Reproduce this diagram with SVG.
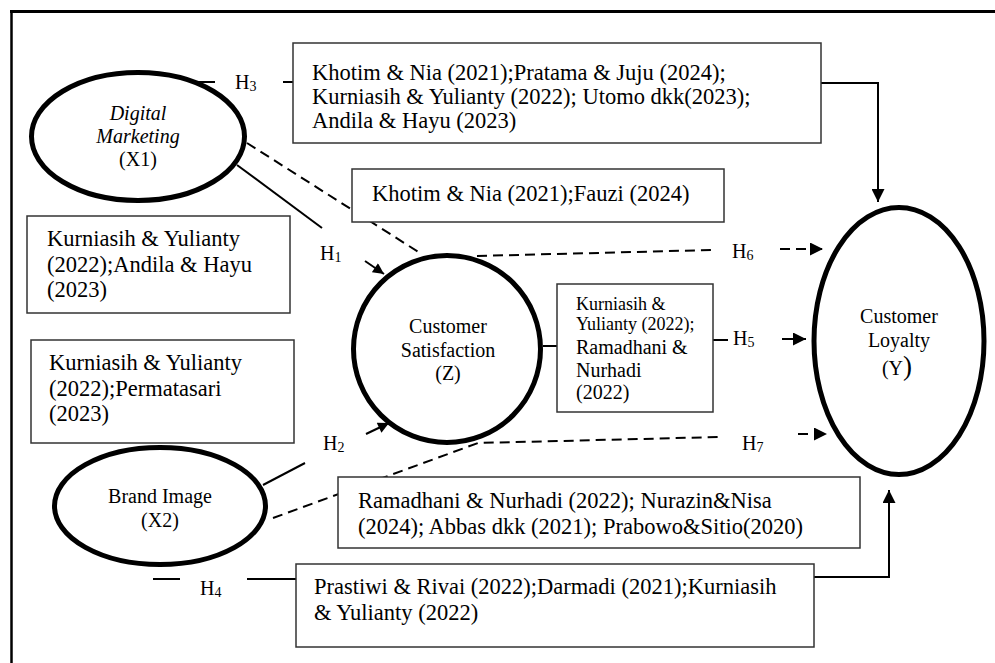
<svg xmlns="http://www.w3.org/2000/svg" width="995" height="663" viewBox="0 0 995 663">
<defs>
<marker id="ah" viewBox="0 0 10 10" refX="10" refY="5" markerWidth="12" markerHeight="11" markerUnits="userSpaceOnUse" orient="auto">
<path d="M0,0 L10,5 L0,10 z" fill="#000"/>
</marker>
<marker id="ahb" viewBox="0 0 10 10" refX="10" refY="5" markerWidth="14" markerHeight="13" markerUnits="userSpaceOnUse" orient="auto">
<path d="M0,0 L10,5 L0,10 z" fill="#000"/>
</marker>
</defs>
<style>
text{font-family:"Liberation Serif","Times New Roman",serif;fill:#000}
.bx{fill:#fff;stroke:#333;stroke-width:1.5}
.el{fill:#fff;stroke:#000;stroke-width:5}
.t{font-size:22.5px}
.n{font-size:20px}
.h{font-size:20px}
.sub{font-size:14px}
.ln{stroke:#000;stroke-width:2;fill:none}
.ds{stroke:#000;stroke-width:2;fill:none;stroke-dasharray:10 6}
</style>
<rect width="995" height="663" fill="#fff"/>
<g id="frame">
<line x1="10" y1="11.5" x2="995" y2="11.5" stroke="#000" stroke-width="3"/>
<line x1="11.5" y1="10" x2="11.5" y2="663" stroke="#000" stroke-width="2.5"/>
</g>
<g id="connectors">
<line class="ln" x1="197" y1="82" x2="215" y2="82" stroke-width="2.5"/>
<line class="ln" x1="283" y1="82" x2="293" y2="82" stroke-width="2.5"/>
<polyline class="ln" points="821,83 878,83 878,202" stroke-width="2.5" marker-end="url(#ahb)"/>
<line class="ln" x1="237" y1="165" x2="322" y2="228" stroke-width="1.8"/>
<line class="ln" x1="365" y1="261" x2="384" y2="274" marker-end="url(#ah)" stroke-width="2.5"/>
<line class="ds" x1="247" y1="143" x2="420" y2="253"/>
<line class="ds" x1="477" y1="256" x2="712" y2="250"/>
<line class="ds" x1="780" y1="249" x2="823" y2="249" stroke-dasharray="3 8 12 4" marker-end="url(#ahb)"/>
<line class="ln" x1="543" y1="346" x2="557" y2="346"/>
<line class="ln" x1="713" y1="340" x2="728" y2="340" stroke-width="2.5"/>
<line class="ln" x1="782" y1="339" x2="806" y2="339" stroke-width="2.5" marker-end="url(#ahb)"/>
<line class="ln" x1="263" y1="485" x2="305" y2="463" stroke-width="1.8"/>
<line class="ln" x1="366" y1="434" x2="389" y2="423" stroke-width="2.5" marker-end="url(#ah)"/>
<polyline class="ds" points="273,518 478,443 720,437"/>
<line class="ds" x1="798" y1="434" x2="827" y2="434" stroke-dasharray="12 6" marker-end="url(#ahb)"/>
<line class="ln" x1="153" y1="579" x2="180" y2="579" stroke-width="3"/>
<line class="ln" x1="247" y1="579" x2="296" y2="579"/>
<polyline class="ln" points="814,577 889,577 889,490" stroke-width="2.5" marker-end="url(#ahb)"/>
</g>
<g id="labels">
<text class="h" x="235" y="89">H<tspan class="sub" dy="2">3</tspan></text>
<text class="h" x="320" y="260">H<tspan class="sub" dy="2">1</tspan></text>
<text class="h" x="732" y="258">H<tspan class="sub" dy="2">6</tspan></text>
<text class="h" x="733" y="345">H<tspan class="sub" dy="2">5</tspan></text>
<text class="h" x="323" y="450">H<tspan class="sub" dy="2">2</tspan></text>
<text class="h" x="742" y="450">H<tspan class="sub" dy="2">7</tspan></text>
<text class="h" x="200" y="595">H<tspan class="sub" dy="2">4</tspan></text>
</g>
<g id="node-x1">
<ellipse class="el" cx="138" cy="136.5" rx="106.5" ry="64"/>
<text class="n" text-anchor="middle" font-style="italic"><tspan x="138" y="120">Digital</tspan><tspan x="138" y="143">Marketing</tspan></text>
<text class="n" text-anchor="middle" x="138" y="166">(X1)</text>
</g>
<g id="node-z">
<circle class="el" cx="447" cy="349" r="93.5"/>
<text class="n" text-anchor="middle"><tspan x="448" y="333">Customer</tspan><tspan x="448" y="357">Satisfaction</tspan><tspan x="448" y="380">(Z)</tspan></text>
</g>
<g id="node-x2">
<ellipse class="el" cx="160" cy="506" rx="105.5" ry="58.5"/>
<text class="n" text-anchor="middle"><tspan x="160" y="503">Brand Image</tspan><tspan x="160" y="527">(X2)</tspan></text>
</g>
<g id="node-y">
<ellipse class="el" cx="899" cy="341" rx="85" ry="133.5"/>
<text class="n" text-anchor="middle"><tspan x="899" y="323">Customer</tspan><tspan x="899" y="347">Loyalty</tspan><tspan x="897" y="375">(Y<tspan font-size="27px">)</tspan></tspan></text>
</g>
<g id="box-h3">
<rect class="bx" x="293" y="43" width="528" height="100"/>
<text class="t"><tspan x="312" y="80">Khotim &amp; Nia (2021);Pratama &amp; Juju (2024);</tspan><tspan x="312" y="104">Kurniasih &amp; Yulianty (2022); Utomo dkk(2023);</tspan><tspan x="312" y="128">Andila &amp; Hayu (2023)</tspan></text>
</g>
<g id="box-h6">
<rect class="bx" x="352" y="169" width="372" height="53"/>
<text class="t" x="372" y="201">Khotim &amp; Nia (2021);Fauzi (2024)</text>
</g>
<g id="box-h1">
<rect class="bx" x="27" y="216" width="263" height="97"/>
<text class="t"><tspan x="47" y="246">Kurniasih &amp; Yulianty</tspan><tspan x="47" y="272">(2022);Andila &amp; Hayu</tspan><tspan x="47" y="297">(2023)</tspan></text>
</g>
<g id="box-h2">
<rect class="bx" x="31" y="340" width="263" height="103"/>
<text class="t"><tspan x="49" y="370">Kurniasih &amp; Yulianty</tspan><tspan x="49" y="396">(2022);Permatasari</tspan><tspan x="49" y="421">(2023)</tspan></text>
</g>
<g id="box-h5">
<rect class="bx" x="557" y="284" width="156" height="128"/>
<text font-size="18px"><tspan x="576" y="310">Kurniasih &amp;</tspan><tspan x="576" y="330">Yulianty (2022);</tspan></text>
<text class="n"><tspan x="576" y="354">Ramadhani &amp;</tspan><tspan x="576" y="377">Nurhadi</tspan><tspan x="576" y="399">(2022)</tspan></text>
</g>
<g id="box-h7">
<rect class="bx" x="338" y="477" width="522" height="71"/>
<text class="t"><tspan x="358" y="508">Ramadhani &amp; Nurhadi (2022); Nurazin&amp;Nisa</tspan><tspan x="358" y="534">(2024); Abbas dkk (2021); Prabowo&amp;Sitio(2020)</tspan></text>
</g>
<g id="box-h4">
<rect class="bx" x="296" y="564" width="518" height="83"/>
<text class="t"><tspan x="314" y="594">Prastiwi &amp; Rivai (2022);Darmadi (2021);Kurniasih</tspan><tspan x="314" y="620">&amp; Yulianty (2022)</tspan></text>
</g>
</svg>
